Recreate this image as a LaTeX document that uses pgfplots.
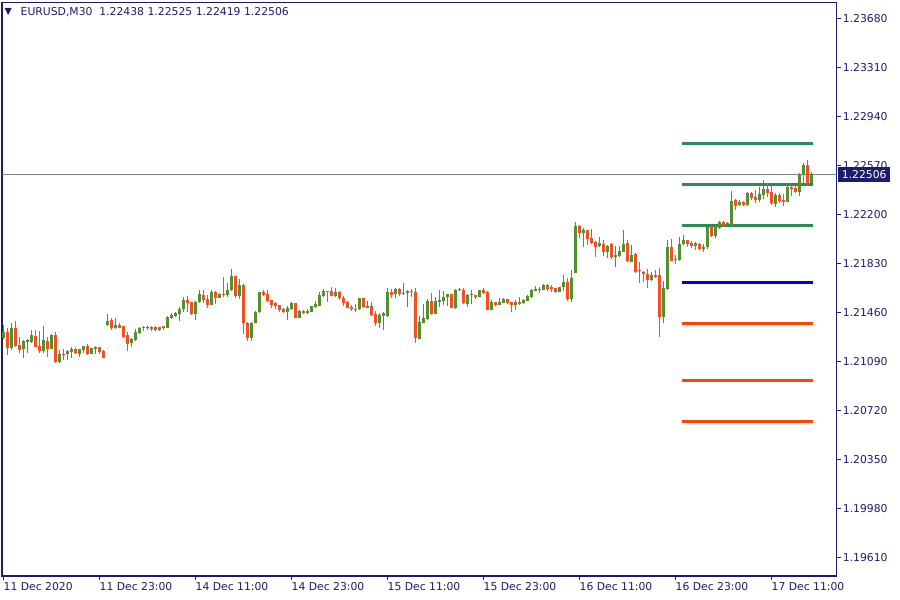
\documentclass[border=0pt]{standalone}
\usepackage{pgfplots}
\usepackage{pgfplotstable}
\pgfplotsset{compat=1.18}
\usepackage{fontspec}
\setmainfont{DejaVu Sans}
\definecolor{bull}{RGB}{84,144,44}
\definecolor{bear}{RGB}{246,78,34}
\definecolor{lvlgreen}{RGB}{46,139,87}
\definecolor{lvlblue}{RGB}{0,0,230}
\definecolor{lvlorange}{RGB}{255,69,0}
\definecolor{navy}{RGB}{28,28,110}
\definecolor{pline}{RGB}{119,136,153}

\pgfplotstableread{
i o h l c
0 1.21267 1.21367 1.21261 1.21317
1 1.21317 1.21342 1.21141 1.21196
2 1.21196 1.21385 1.21178 1.21342
3 1.21345 1.21397 1.21204 1.21209
4 1.21216 1.21274 1.21158 1.21178
5 1.21183 1.21254 1.21121 1.21246
6 1.21241 1.21261 1.21158 1.21254
7 1.21241 1.21329 1.21234 1.21292
8 1.21284 1.21329 1.21199 1.21204
9 1.21209 1.21322 1.21158 1.21171
10 1.21173 1.21360 1.21158 1.21254
11 1.21246 1.21274 1.21128 1.21188
12 1.21188 1.21299 1.21183 1.21292
13 1.21292 1.21317 1.21078 1.21090
14 1.21090 1.21178 1.21083 1.21148
15 1.21148 1.21186 1.21103 1.21143
16 1.21146 1.21178 1.21103 1.21171
17 1.21163 1.21199 1.21121 1.21186
18 1.21186 1.21191 1.21146 1.21158
19 1.21148 1.21186 1.21128 1.21186
20 1.21178 1.21209 1.21153 1.21209
21 1.21209 1.21224 1.21143 1.21148
22 1.21148 1.21196 1.21146 1.21191
23 1.21186 1.21209 1.21146 1.21199
24 1.21199 1.21199 1.21148 1.21166
25 1.21171 1.21178 1.21121 1.21121
26 1.21367 1.21450 1.21362 1.21397
27 1.21405 1.21418 1.21329 1.21342
28 1.21342 1.21418 1.21337 1.21367
29 1.21367 1.21385 1.21342 1.21347
30 1.21360 1.21360 1.21272 1.21279
31 1.21292 1.21317 1.21173 1.21224
32 1.21229 1.21267 1.21204 1.21262
33 1.21254 1.21337 1.21249 1.21312
34 1.21305 1.21355 1.21299 1.21347
35 1.21352 1.21362 1.21322 1.21347
36 1.21347 1.21362 1.21327 1.21355
37 1.21355 1.21362 1.21325 1.21337
38 1.21355 1.21362 1.21322 1.21330
39 1.21330 1.21355 1.21322 1.21352
40 1.21360 1.21360 1.21332 1.21342
41 1.21347 1.21438 1.21347 1.21428
42 1.21418 1.21456 1.21410 1.21443
43 1.21435 1.21468 1.21425 1.21461
44 1.21450 1.21506 1.21398 1.21488
45 1.21488 1.21576 1.21468 1.21556
46 1.21556 1.21586 1.21463 1.21536
47 1.21541 1.21544 1.21443 1.21450
48 1.21450 1.21549 1.21405 1.21544
49 1.21544 1.21632 1.21536 1.21602
50 1.21594 1.21632 1.21531 1.21556
51 1.21564 1.21594 1.21498 1.21518
52 1.21518 1.21632 1.21518 1.21619
53 1.21619 1.21624 1.21526 1.21574
54 1.21574 1.21612 1.21569 1.21602
55 1.21602 1.21732 1.21581 1.21596
56 1.21594 1.21682 1.21581 1.21632
57 1.21632 1.21790 1.21627 1.21737
58 1.21737 1.21737 1.21569 1.21589
59 1.21586 1.21715 1.21564 1.21669
60 1.21669 1.21675 1.21297 1.21380
61 1.21385 1.21393 1.21247 1.21272
62 1.21272 1.21393 1.21249 1.21380
63 1.21380 1.21473 1.21380 1.21468
64 1.21468 1.21619 1.21456 1.21619
65 1.21619 1.21632 1.21586 1.21594
66 1.21602 1.21632 1.21544 1.21549
67 1.21555 1.21555 1.21493 1.21518
68 1.21530 1.21543 1.21485 1.21510
69 1.21518 1.21518 1.21467 1.21480
70 1.21488 1.21493 1.21455 1.21467
71 1.21467 1.21510 1.21404 1.21498
72 1.21488 1.21540 1.21480 1.21535
73 1.21535 1.21535 1.21417 1.21422
74 1.21422 1.21480 1.21417 1.21472
75 1.21475 1.21480 1.21450 1.21460
76 1.21460 1.21488 1.21450 1.21475
77 1.21467 1.21510 1.21467 1.21510
78 1.21503 1.21548 1.21493 1.21523
79 1.21513 1.21616 1.21513 1.21593
80 1.21586 1.21636 1.21581 1.21623
81 1.21623 1.21626 1.21543 1.21618
82 1.21623 1.21651 1.21586 1.21588
83 1.21588 1.21644 1.21581 1.21616
84 1.21616 1.21623 1.21555 1.21573
85 1.21573 1.21586 1.21513 1.21535
86 1.21543 1.21550 1.21493 1.21498
87 1.21505 1.21518 1.21475 1.21485
88 1.21488 1.21525 1.21467 1.21482
89 1.21485 1.21573 1.21482 1.21571
90 1.21571 1.21573 1.21498 1.21505
91 1.21498 1.21548 1.21495 1.21513
92 1.21510 1.21538 1.21437 1.21442
93 1.21450 1.21472 1.21359 1.21384
94 1.21384 1.21455 1.21347 1.21442
95 1.21437 1.21467 1.21329 1.21460
96 1.21437 1.21644 1.21430 1.21618
97 1.21618 1.21639 1.21573 1.21593
98 1.21598 1.21644 1.21568 1.21639
99 1.21639 1.21644 1.21586 1.21601
100 1.21603 1.21681 1.21593 1.21608
101 1.21606 1.21631 1.21505 1.21623
102 1.21626 1.21639 1.21576 1.21613
103 1.21613 1.21644 1.21233 1.21271
104 1.21261 1.21435 1.21258 1.21387
105 1.21384 1.21523 1.21379 1.21417
106 1.21412 1.21561 1.21404 1.21548
107 1.21548 1.21606 1.21442 1.21450
108 1.21450 1.21576 1.21447 1.21548
109 1.21543 1.21631 1.21505 1.21555
110 1.21548 1.21623 1.21518 1.21576
111 1.21576 1.21603 1.21510 1.21601
112 1.21601 1.21603 1.21493 1.21498
113 1.21498 1.21636 1.21488 1.21631
114 1.21631 1.21644 1.21626 1.21634
115 1.21631 1.21644 1.21523 1.21530
116 1.21523 1.21598 1.21505 1.21593
117 1.21591 1.21631 1.21525 1.21596
118 1.21593 1.21596 1.21561 1.21581
119 1.21581 1.21634 1.21576 1.21631
120 1.21631 1.21644 1.21601 1.21611
121 1.21616 1.21623 1.21477 1.21480
122 1.21480 1.21555 1.21477 1.21538
123 1.21538 1.21543 1.21513 1.21518
124 1.21518 1.21568 1.21515 1.21543
125 1.21535 1.21568 1.21530 1.21563
126 1.21563 1.21566 1.21523 1.21530
127 1.21538 1.21540 1.21467 1.21518
128 1.21518 1.21555 1.21480 1.21543
129 1.21543 1.21576 1.21518 1.21525
130 1.21530 1.21563 1.21528 1.21555
131 1.21550 1.21593 1.21545 1.21586
132 1.21575 1.21636 1.21573 1.21631
133 1.21623 1.21661 1.21621 1.21638
134 1.21631 1.21651 1.21606 1.21636
135 1.21631 1.21676 1.21628 1.21669
136 1.21669 1.21674 1.21626 1.21638
137 1.21651 1.21669 1.21618 1.21638
138 1.21643 1.21646 1.21606 1.21618
139 1.21618 1.21654 1.21613 1.21651
140 1.21651 1.21744 1.21626 1.21691
141 1.21691 1.21719 1.21550 1.21560
142 1.21565 1.21782 1.21543 1.21719
143 1.21762 1.22147 1.21759 1.22114
144 1.22114 1.22122 1.22021 1.22059
145 1.22059 1.22097 1.21958 1.22084
146 1.22084 1.22086 1.21971 1.22016
147 1.22021 1.22089 1.21978 1.21983
148 1.21991 1.22001 1.21883 1.21958
149 1.21966 1.22029 1.21958 1.21983
150 1.21976 1.22008 1.21888 1.21915
151 1.21920 1.21971 1.21875 1.21963
152 1.21976 1.21983 1.21865 1.21883
153 1.21883 1.21963 1.21807 1.21895
154 1.21890 1.21963 1.21883 1.21925
155 1.21920 1.22084 1.21915 1.21978
156 1.21983 1.22008 1.21845 1.21852
157 1.21845 1.21971 1.21842 1.21895
158 1.21903 1.21913 1.21757 1.21764
159 1.21777 1.21845 1.21686 1.21772
160 1.21769 1.21777 1.21694 1.21749
161 1.21752 1.21789 1.21649 1.21706
162 1.21706 1.21769 1.21699 1.21744
163 1.21744 1.21782 1.21719 1.21727
164 1.21744 1.21795 1.21274 1.21430
165 1.21430 1.21699 1.21379 1.21649
166 1.21638 1.22008 1.21631 1.21958
167 1.21958 1.22016 1.21850 1.21852
168 1.21860 1.21895 1.21827 1.21855
169 1.21857 1.22034 1.21852 1.21978
170 1.21976 1.22046 1.21971 1.22008
171 1.22008 1.22011 1.21958 1.21978
172 1.21983 1.22003 1.21946 1.21963
173 1.21963 1.21991 1.21933 1.21983
174 1.21976 1.21988 1.21933 1.21940
175 1.21940 1.21976 1.21920 1.21958
176 1.21958 1.22114 1.21940 1.22109
177 1.22109 1.22114 1.22028 1.22039
178 1.22039 1.22117 1.22026 1.22114
179 1.22102 1.22154 1.22091 1.22147
180 1.22147 1.22149 1.22109 1.22122
181 1.22127 1.22147 1.22104 1.22132
182 1.22122 1.22381 1.22119 1.22305
183 1.22310 1.22315 1.22235 1.22268
184 1.22273 1.22310 1.22268 1.22298
185 1.22298 1.22300 1.22268 1.22273
186 1.22273 1.22368 1.22268 1.22361
187 1.22361 1.22368 1.22310 1.22328
188 1.22336 1.22386 1.22285 1.22310
189 1.22310 1.22411 1.22293 1.22356
190 1.22348 1.22461 1.22315 1.22393
191 1.22393 1.22436 1.22336 1.22361
192 1.22373 1.22416 1.22273 1.22285
193 1.22280 1.22361 1.22260 1.22348
194 1.22348 1.22361 1.22290 1.22303
195 1.22310 1.22356 1.22265 1.22298
196 1.22298 1.22416 1.22295 1.22411
197 1.22411 1.22424 1.22343 1.22393
198 1.22404 1.22419 1.22361 1.22373
199 1.22373 1.22517 1.22343 1.22504
200 1.22504 1.22587 1.22424 1.22575
201 1.22575 1.22613 1.22416 1.22429
202 1.22438 1.22525 1.22419 1.22506
}\candles

\begin{document}
\begin{tikzpicture}
\path[use as bounding box] (0pt,0pt) rectangle (900pt,600pt);
\begin{axis}[
  at={(2pt,24pt)}, anchor=south west,
  scale only axis, width=834.7pt, height=573.3pt,
  xmin=-0.375, xmax=208.3,
  ymin=1.194716, ymax=1.238006,
  axis line style={navy, line width=1.2pt},
  tick style={navy, line width=0.9pt},
  tick align=outside, major tick length=4pt,
  xtick pos=bottom, ytick pos=right, yticklabel pos=right,
  xtick={0,24,48,72,96,120,144,168,192},
  xticklabels={11 Dec 2020,11 Dec 23:00,14 Dec 11:00,14 Dec 23:00,15 Dec 11:00,15 Dec 23:00,16 Dec 11:00,16 Dec 23:00,17 Dec 11:00},
  ytick={1.1961,1.1998,1.2035,1.2072,1.2109,1.2146,1.2183,1.2220,1.2257,1.2294,1.2331,1.2368},
  yticklabels={1.19610,1.19980,1.20350,1.20720,1.21090,1.21460,1.21830,1.22200,1.22570,1.22940,1.23310,1.23680},
  tick label style={font=\fontsize{10.8pt}{13pt}\selectfont, text=navy, inner sep=0pt},
  xticklabel style={anchor=north west, yshift=-2pt},
  yticklabel style={anchor=west, xshift=2pt},
  clip=true,
]
% current price line
\addplot[pline, line width=1pt, forget plot] coordinates {(-1,1.22506) (210,1.22506)};
% levels
\addplot[lvlgreen, line width=3pt, forget plot] coordinates {(169.7,1.22739) (202.3,1.22739)};
\addplot[lvlgreen, line width=3pt, forget plot] coordinates {(169.7,1.22429) (202.3,1.22429)};
\addplot[lvlgreen, line width=3pt, forget plot] coordinates {(169.7,1.22120) (202.3,1.22120)};
\addplot[lvlblue, line width=3pt, forget plot] coordinates {(169.7,1.21689) (202.3,1.21689)};
\addplot[lvlorange, line width=3pt, forget plot] coordinates {(169.7,1.21380) (202.3,1.21380)};
\addplot[lvlorange, line width=3pt, forget plot] coordinates {(169.7,1.20949) (202.3,1.20949)};
\addplot[lvlorange, line width=3pt, forget plot] coordinates {(169.7,1.20640) (202.3,1.20640)};
% bull wicks
\addplot[draw=none, mark=none, forget plot,
  restrict expr to domain={(\thisrow{c}-\thisrow{o})*10000}{0:1000},
  error bars/.cd, y dir=plus, y explicit, error mark=none,
  error bar style={line width=1pt, color=bull, solid}]
  table[x=i, y=l, y error plus expr={\thisrow{h}-\thisrow{l}}] {\candles};
% bear wicks
\addplot[draw=none, mark=none, forget plot,
  restrict expr to domain={(\thisrow{c}-\thisrow{o})*10000}{-1000:0},
  error bars/.cd, y dir=plus, y explicit, error mark=none,
  error bar style={line width=1pt, color=bear, solid}]
  table[x=i, y=l, y error plus expr={\thisrow{h}-\thisrow{l}}] {\candles};
% bull bodies
\addplot[draw=none, mark=none, forget plot,
  restrict expr to domain={(\thisrow{c}-\thisrow{o})*10000}{0:1000},
  error bars/.cd, y dir=plus, y explicit, error mark=none,
  error bar style={line width=3pt, color=bull, solid}]
  table[x=i, y=o, y error plus expr={max(\thisrow{c}-\thisrow{o},0.00008)}] {\candles};
% bear bodies
\addplot[draw=none, mark=none, forget plot,
  restrict expr to domain={(\thisrow{c}-\thisrow{o})*10000}{-1000:0},
  error bars/.cd, y dir=plus, y explicit, error mark=none,
  error bar style={line width=3pt, color=bear, solid}]
  table[x=i, y=c, y error plus expr={max(\thisrow{o}-\thisrow{c},0.00008)}] {\candles};
\coordinate (pl) at (axis cs:208.3,1.22506);
\end{axis}
\node[fill=navy, text=white, anchor=west, inner xsep=3.5pt, inner ysep=0pt, minimum height=15pt,
  font=\fontsize{10.8pt}{13pt}\selectfont] at ([xshift=1.5pt]pl) {1.22506};
\node[anchor=west, inner sep=0pt, text=navy, font=\fontsize{9.5pt}{10pt}\selectfont] at (4.5pt,588pt) {▼};
\node[anchor=west, inner sep=0pt, text=navy, font=\fontsize{10.8pt}{13pt}\selectfont] at (20.5pt,587.5pt) {EURUSD,M30\ \ 1.22438\,\,1.22525\,\,1.22419\,\,1.22506};
\end{tikzpicture}
\end{document}
